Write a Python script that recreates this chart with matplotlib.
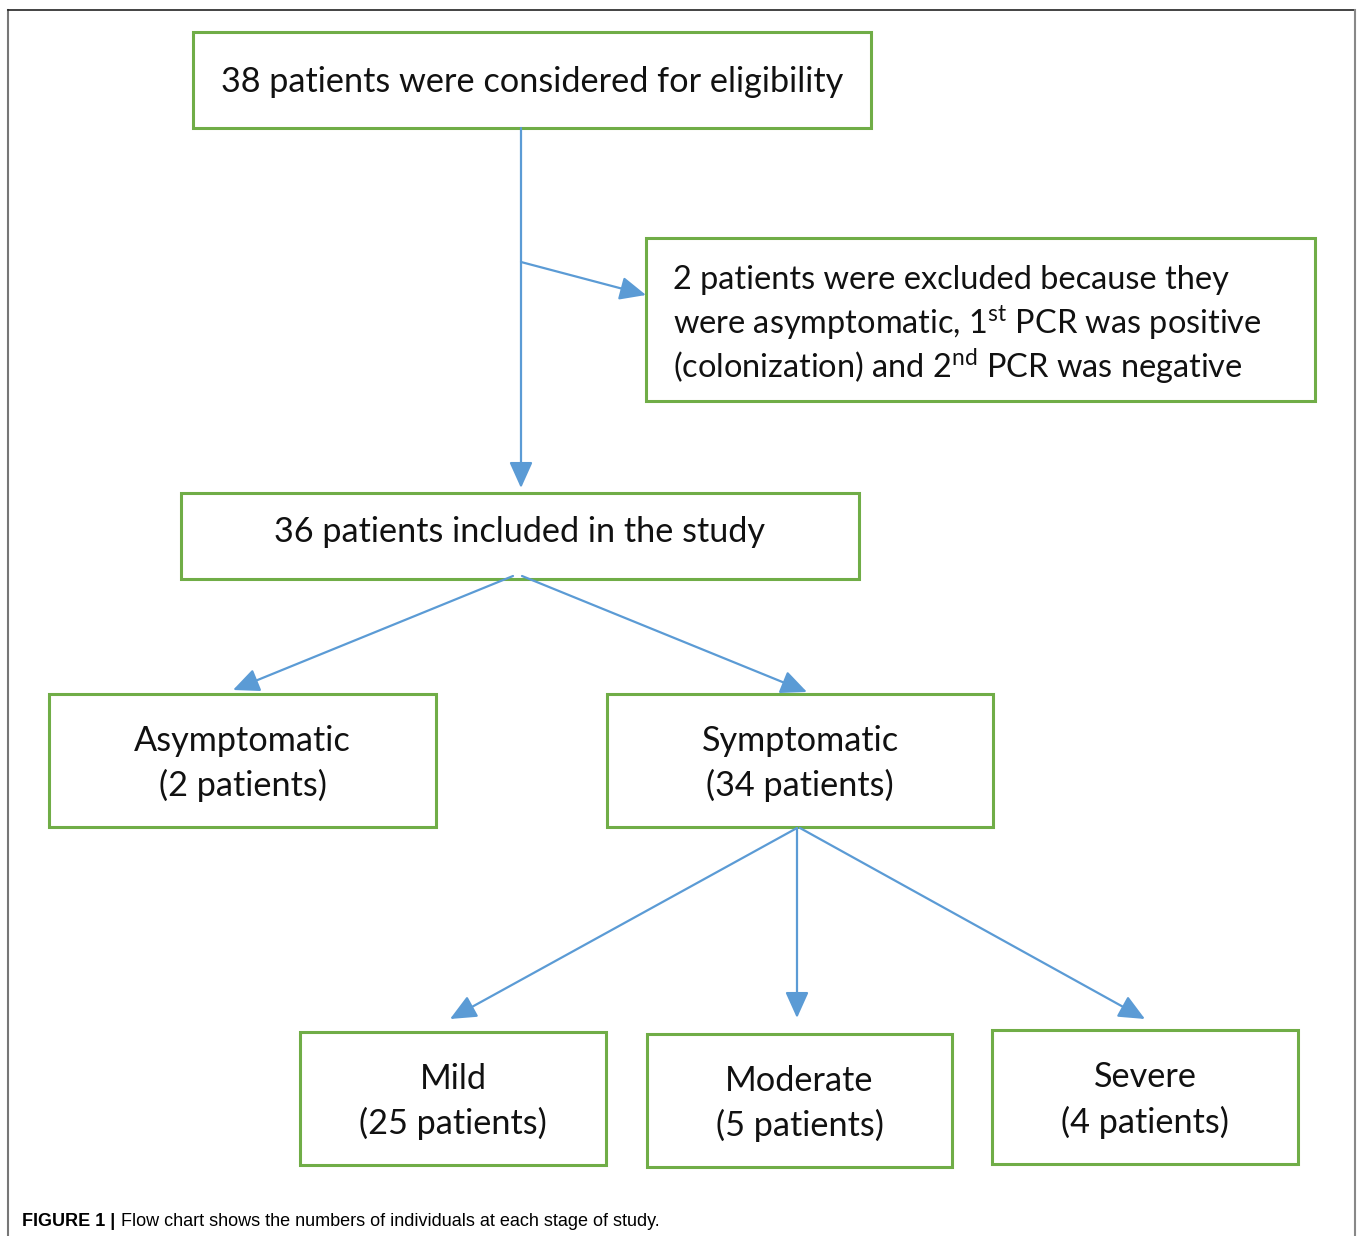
import matplotlib.pyplot as plt
from matplotlib.patches import Rectangle

plt.rcParams['font.family'] = ['Lato', 'DejaVu Sans']
plt.rcParams['mathtext.fontset'] = 'custom'
plt.rcParams['mathtext.rm'] = 'Lato'

# box texts
box_labels = [
    '38 patients were considered for eligibility',
    '36 patients included in the study',
    'Asymptomatic\n(2 patients)',
    'Symptomatic\n(34 patients)',
    'Mild\n(25 patients)',
    'Moderate\n(5 patients)',
    'Severe\n(4 patients)',
]
excluded_lines = [
    '2 patients were excluded because they',
    r'were asymptomatic, 1$^{\mathrm{st}}$ PCR was positive',
    r'(colonization) and 2$^{\mathrm{nd}}$ PCR was negative',
]
caption_bold = 'FIGURE 1 |'
caption_text = 'Flow chart shows the numbers of individuals at each stage of study.'

# layout in pixels: x0, y0, x1, y1, text nudge
box_pos = [
    (193, 32, 871, 128, 2),
    (181, 493, 859, 579, -4),
    (49, 694, 436, 827, 3),
    (607, 694, 993, 827, 3),
    (300, 1032, 606, 1165, 3),
    (647, 1034, 952, 1167, 3),
    (992, 1030, 1298, 1164, 3),
]
excl_pos = (646, 238, 1315, 401)

# arrows: start, end
arrows = [
    ((521, 128), (521, 488)),
    ((521, 262), (646, 295)),
    ((513, 576), (233, 690)),
    ((522, 576), (807, 692)),
    ((797, 828), (450, 1019)),
    ((797, 828), (797, 1018)),
    ((800, 828), (1145, 1019)),
]

green = '#70AD47'
blue = '#5B9BD5'

W, H = 1357, 1236
fig = plt.figure(figsize=(W / 100, H / 100), dpi=100)
ax = fig.add_axes([0, 0, 1, 1])
ax.set_xlim(0, W)
ax.set_ylim(H, 0)
ax.axis('off')

# outer frame
ax.plot([8, 8], [H, 10], color='#777777', lw=1.5)
ax.plot([8, 1355], [10, 10], color='#222222', lw=1.2)
ax.plot([1355, 1355], [10, H], color='#888888', lw=1.5)

fs = 24.7
for (x0, y0, x1, y1, dy), lab in zip(box_pos, box_labels):
    ax.add_patch(Rectangle((x0, y0), x1 - x0, y1 - y0, fill=False,
                           edgecolor=green, lw=2.2))
    ax.text((x0 + x1) / 2, (y0 + y1) / 2 + dy, lab, ha='center', va='center',
            fontsize=fs, color='#111111', linespacing=1.45)

x0, y0, x1, y1 = excl_pos
ax.add_patch(Rectangle((x0, y0), x1 - x0, y1 - y0, fill=False,
                       edgecolor=green, lw=2.2))
for i, line in enumerate(excluded_lines):
    ax.text(673, 280 + i * 43, line, ha='left', va='center',
            fontsize=23.4, color='#111111')

for (sx, sy), (ex, ey) in arrows:
    ax.annotate('', xy=(ex, ey), xytext=(sx, sy),
                arrowprops=dict(arrowstyle='-|>,head_length=1.0,head_width=0.45',
                                color=blue, lw=1.6, shrinkA=0, shrinkB=0,
                                mutation_scale=16))

cap_font = ['Liberation Sans', 'DejaVu Sans']
ax.text(22, 1222, caption_bold, ha='left', va='center', fontsize=13,
        fontweight='bold', family=cap_font)
ax.text(121, 1222, caption_text, ha='left', va='center', fontsize=13,
        family=cap_font)

fig.savefig('out.png', dpi=100)
